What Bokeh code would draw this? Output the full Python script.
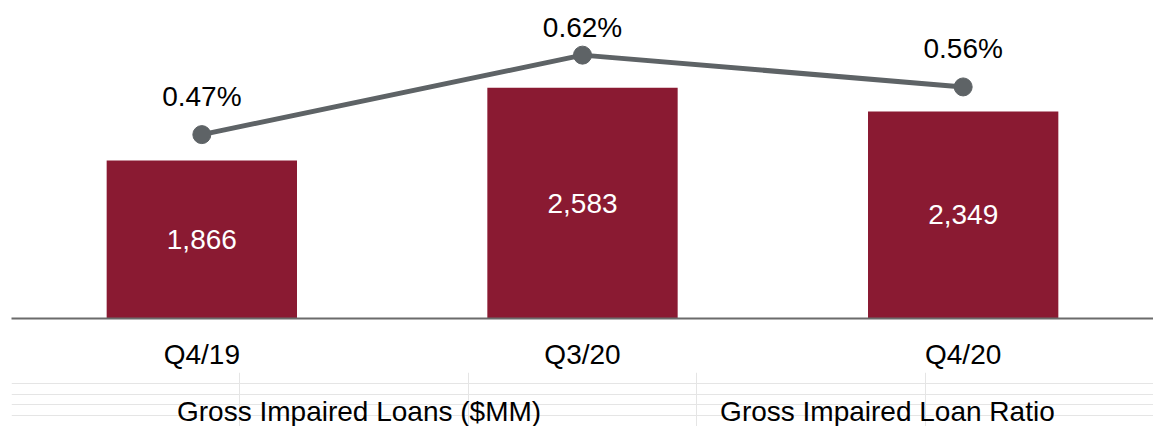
from bokeh.plotting import figure
from bokeh.layouts import column
from bokeh.models import FactorRange, Range1d, ColumnDataSource, Legend, LegendItem
from bokeh.core.properties import value
from bokeh.embed import file_html
from bokeh.resources import INLINE

categories = ["Q4/19", "Q3/20", "Q4/20"]
loans = [1866, 2583, 2349]
ratios = [0.47, 0.62, 0.56]
loan_labels = ["1,866", "2,583", "2,349"]
ratio_labels = ["0.47%", "0.62%", "0.56%"]

BAR = "#8a1a32"
LINE = "#5e6366"
FONT = "Liberation Sans"
FS = "28px"

y_start, y_end = 310, 3363
p = figure(x_range=FactorRange(*categories), y_range=Range1d(y_start, y_end),
           width=1153, height=372,
           min_border_left=11, min_border_right=0, min_border_top=8, min_border_bottom=0,
           output_backend="svg", toolbar_location=None, y_axis_location=None)
p.extra_y_ranges = {"ratio": Range1d(0.123, 0.708)}
p.outline_line_color = None
p.grid.visible = False
p.background_fill_color = "white"
p.border_fill_color = "white"

src = ColumnDataSource(dict(
    x=categories, loans=loans, ratios=ratios,
    mid=[(y_start + v) / 2 for v in loans],
    loan_labels=loan_labels, ratio_labels=ratio_labels,
    off=[-38, -28, -38],
))

p.vbar(x="x", top="loans", bottom=0, width=0.5, source=src, fill_color=BAR, line_color=None)
p.text(x="x", y="mid", text="loan_labels", source=src, text_color="white",
       text_font=value(FONT), text_font_size=FS, text_align="center", text_baseline="middle")

p.line(x="x", y="ratios", source=src, y_range_name="ratio", line_color=LINE, line_width=5)
p.scatter(x="x", y="ratios", source=src, y_range_name="ratio", size=18,
          fill_color=LINE, line_color=LINE)
p.text(x="x", y="ratios", y_offset="off", text="ratio_labels", source=src, y_range_name="ratio",
       text_color="black", text_font=value(FONT), text_font_size=FS,
       text_align="center", text_baseline="middle")

ax = p.xaxis[0]
ax.axis_line_color = "#6b6b6b"
ax.axis_line_width = 2
ax.major_tick_line_color = None
ax.minor_tick_line_color = None
ax.major_label_text_font = FONT
ax.major_label_text_font_size = FS
ax.major_label_text_color = "black"
ax.major_label_standoff = 14

# legend strip below the chart
lf = figure(width=1153, height=54, x_range=Range1d(0, 1), y_range=Range1d(0, 1),
            min_border_left=0, min_border_right=0, min_border_top=0, min_border_bottom=0,
            output_backend="svg", toolbar_location=None,
            x_axis_location=None, y_axis_location=None)
lf.outline_line_color = None
lf.background_fill_color = "white"
lf.border_fill_color = "white"

bar_key = lf.line(x=[], y=[], line_color=BAR, line_width=13)
line_key = lf.line(x=[], y=[], line_color=LINE, line_width=5)
dot_key = lf.scatter(x=[], y=[], size=18, fill_color=LINE, line_color=LINE)

legend = Legend(items=[
    LegendItem(label="Gross Impaired Loans ($MM)", renderers=[bar_key]),
    LegendItem(label="Gross Impaired Loan Ratio", renderers=[line_key, dot_key]),
], location=(107, -2), orientation="horizontal", glyph_width=54, glyph_height=30,
    label_standoff=5, spacing=120, padding=0, margin=0,
    label_text_font=FONT, label_text_font_size=FS, label_text_color="black",
    border_line_color=None, background_fill_alpha=0)
lf.add_layout(legend)

layout = column(p, lf, spacing=0)
open("out.html", "w").write(file_html(layout, INLINE))
